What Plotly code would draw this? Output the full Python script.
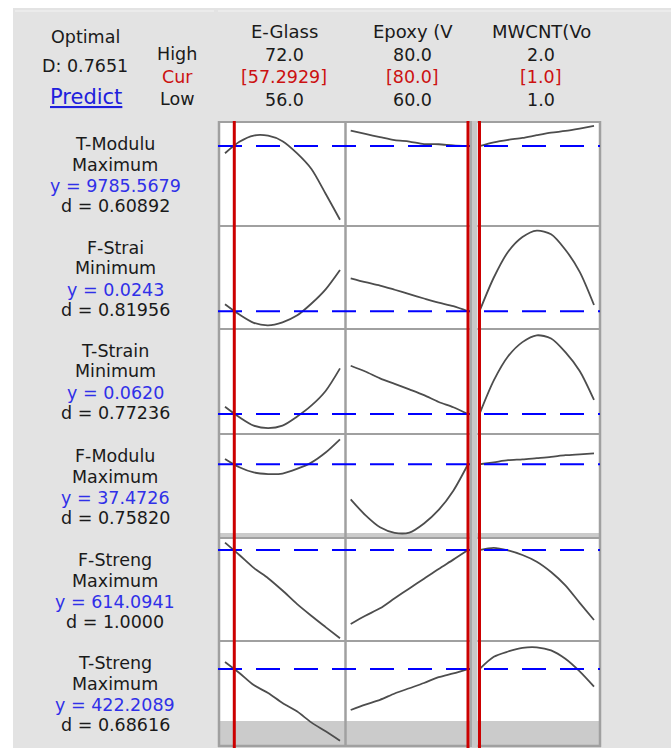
import plotly.graph_objects as go

W, H = 671, 748

# ---------------- data ----------------
factor_names = ["E-Glass", "Epoxy (V", "MWCNT(Vo"]
high_labels = ["72.0", "80.0", "2.0"]
cur_labels = ["[57.2929]", "[80.0]", "[1.0]"]
low_labels = ["56.0", "60.0", "1.0"]
factor_low = [56.0, 60.0, 1.0]
factor_high = [72.0, 80.0, 2.0]
factor_cur = [57.2929, 80.0, 1.0]

e_glass = [56, 58, 60, 62, 64, 66, 68, 70, 72]
epoxy = [60, 62.5, 65, 67.5, 70, 72.5, 75, 77.5, 80]
mwcnt = [1.0, 1.125, 1.25, 1.375, 1.5, 1.625, 1.75, 1.875, 2.0]

response_names = ["T-Modulu", "F-Strai", "T-Strain", "F-Modulu", "F-Streng", "T-Streng"]
response_goals = ["Maximum", "Minimum", "Minimum", "Maximum", "Maximum", "Maximum"]
response_y = ["9785.5679", "0.0243", "0.0620", "37.4726", "614.0941", "422.2089"]
response_d = ["0.60892", "0.81956", "0.77236", "0.75820", "1.0000", "0.68616"]
optimal_D = "0.7651"

# predicted responses (relative position within each row's plotted range)
t_mod_glass = [0.70, 0.81, 0.87, 0.868, 0.815, 0.70, 0.55, 0.31, 0.06]
t_mod_epoxy = [0.916, 0.885, 0.855, 0.826, 0.812, 0.788, 0.786, 0.775, 0.769]
t_mod_mwcnt = [0.769, 0.805, 0.829, 0.847, 0.873, 0.897, 0.914, 0.937, 0.962]

f_strain_glass = [0.24, 0.14, 0.06, 0.036, 0.065, 0.13, 0.245, 0.385, 0.573]
f_strain_epoxy = [0.492, 0.455, 0.422, 0.381, 0.338, 0.296, 0.256, 0.222, 0.172]
f_strain_mwcnt = [0.172, 0.50, 0.75, 0.893, 0.955, 0.92, 0.77, 0.555, 0.233]

t_strain_glass = [0.26, 0.16, 0.08, 0.056, 0.08, 0.165, 0.27, 0.41, 0.625]
t_strain_epoxy = [0.65, 0.595, 0.53, 0.478, 0.425, 0.37, 0.305, 0.255, 0.19]
t_strain_mwcnt = [0.19, 0.51, 0.74, 0.875, 0.94, 0.91, 0.78, 0.60, 0.324]

f_mod_glass = [0.76, 0.68, 0.63, 0.615, 0.62, 0.664, 0.725, 0.822, 0.949]
f_mod_epoxy = [0.372, 0.22, 0.103, 0.05, 0.052, 0.14, 0.27, 0.455, 0.709]
f_mod_mwcnt = [0.709, 0.728, 0.748, 0.756, 0.768, 0.78, 0.796, 0.805, 0.814]

f_str_glass = [0.955, 0.835, 0.71, 0.61, 0.49, 0.36, 0.245, 0.135, 0.026]
f_str_epoxy = [0.165, 0.245, 0.317, 0.415, 0.51, 0.605, 0.70, 0.79, 0.883]
f_str_mwcnt = [0.883, 0.905, 0.88, 0.835, 0.77, 0.67, 0.54, 0.37, 0.204]

t_str_glass = [0.80, 0.695, 0.58, 0.505, 0.41, 0.33, 0.225, 0.14, 0.05]
t_str_epoxy = [0.343, 0.395, 0.44, 0.50, 0.55, 0.60, 0.656, 0.692, 0.733]
t_str_mwcnt = [0.733, 0.85, 0.90, 0.935, 0.94, 0.91, 0.83, 0.71, 0.565]

current_level = [0.769, 0.172, 0.19, 0.709, 0.883, 0.733]

factor_x = [e_glass, epoxy, mwcnt]
curves = [
    [t_mod_glass, t_mod_epoxy, t_mod_mwcnt],
    [f_strain_glass, f_strain_epoxy, f_strain_mwcnt],
    [t_strain_glass, t_strain_epoxy, t_strain_mwcnt],
    [f_mod_glass, f_mod_epoxy, f_mod_mwcnt],
    [f_str_glass, f_str_epoxy, f_str_mwcnt],
    [t_str_glass, t_str_epoxy, t_str_mwcnt],
]

# ---------------- layout geometry (pixels) ----------------
rows_px = [(122, 226), (226, 329), (329, 434), (434, 538), (538, 641), (641, 746)]
cols_px = [(219, 345.5), (345.5, 470.5), (470.5, 600)]
data_px = [(225, 340), (350.7, 468), (479.5, 594)]  # where low/high factor values sit

FONT = "DejaVu Sans"
BLACK = "#1a1a1a"
BLUE = "#3030e8"
RED = "#cc1111"

fig = go.Figure()
layout = dict(width=W, height=H, margin=dict(l=0, r=0, t=0, b=0),
              paper_bgcolor="white", plot_bgcolor="rgba(0,0,0,0)", showlegend=False)

for c in range(3):
    d0, d1 = cols_px[c]
    p0, p1 = data_px[c]
    a, b = factor_low[c], factor_high[c]
    s = (b - a) / (p1 - p0)
    rng = [a - (p0 - d0) * s, b + (d1 - p1) * s]
    key = "xaxis" if c == 0 else f"xaxis{c+1}"
    layout[key] = dict(domain=[d0 / W, d1 / W], range=rng, visible=False,
                       fixedrange=True, anchor="y6")

for r in range(6):
    t, bt = rows_px[r]
    key = "yaxis" if r == 0 else f"yaxis{r+1}"
    layout[key] = dict(domain=[1 - bt / H, 1 - t / H], range=[0, 1], visible=False,
                       fixedrange=True, anchor="x")

for r in range(6):
    for c in range(3):
        fig.add_trace(go.Scatter(
            x=factor_x[c], y=curves[r][c], mode="lines",
            line=dict(color="#4d4d4d", width=1.8, shape="spline", smoothing=0.8),
            xaxis="x" if c == 0 else f"x{c+1}",
            yaxis="y" if r == 0 else f"y{r+1}",
            hoverinfo="skip"))

shapes = []


def prect(x0, y0, x1, y1, fill, layer="below"):
    shapes.append(dict(type="rect", xref="paper", yref="paper",
                       x0=x0 / W, x1=x1 / W, y0=1 - y1 / H, y1=1 - y0 / H,
                       fillcolor=fill, line=dict(width=0), layer=layer))


def pline(x0, y0, x1, y1, color, width, layer="above", dash=None):
    d = dict(type="line", xref="paper", yref="paper",
             x0=x0 / W, x1=x1 / W, y0=1 - y0 / H, y1=1 - y1 / H,
             line=dict(color=color, width=width), layer=layer)
    if dash:
        d["line"]["dash"] = dash
    shapes.append(d)


# backgrounds
prect(13, 8, W, H, "#e3e3e3")
pline(15, 11, 214, 11, "#f3f3f3", 1, layer="below")
pline(218, 11, W, 11, "#f3f3f3", 1, layer="below")
prect(219, 122, 600, 746, "white")
prect(219, 533, 600, 537.5, "#cbcbcb")
prect(219, 721, 600, 745, "#cbcbcb")

# grid borders
for (t, bt) in rows_px:
    pline(218, t, 601, t, "#a0a0a0", 2)
pline(218, 746, 601, 746, "#a0a0a0", 2.5)
for x in [219, 345.5, 600]:
    pline(x, 121, x, 747, "#a0a0a0", 2.5)
prect(469.5, 121, 477.5, 747, "#c8c8c8", layer="above")
pline(471, 121, 471, 747, "#a8a8a8", 2)

# optimal response levels (dashed)
for r in range(6):
    shapes.append(dict(type="line", xref="paper", x0=218 / W, x1=600 / W,
                       yref="y" if r == 0 else f"y{r+1}",
                       y0=current_level[r], y1=current_level[r],
                       line=dict(color="#0000ff", width=2, dash="24px,14px"),
                       layer="above"))

# current factor settings (red)
for c in range(3):
    shapes.append(dict(type="line", xref="x" if c == 0 else f"x{c+1}",
                       x0=factor_cur[c], x1=factor_cur[c],
                       yref="paper", y0=0, y1=1 - 121 / H,
                       line=dict(color="#cc0000", width=3), layer="above"))

annotations = []


def txt(x, y, s, size=17.5, color=BLACK, **font_kw):
    f = dict(family=FONT, size=size, color=color)
    f.update(font_kw)
    annotations.append(dict(x=x / W, y=1 - y / H, xref="paper", yref="paper",
                            text=s, showarrow=False, xanchor="center",
                            yanchor="middle", font=f))


txt(85, 37, "Optimal")
txt(85, 66, "D:" + " " + optimal_D)
txt(86, 97, "Predict", size=21, color="#2020dd", lineposition="under")
txt(177, 54, "High")
txt(177, 77, "Cur", color=RED)
txt(177, 99, "Low")

col_centers = [284, 413, 541]
for c in range(3):
    txt(col_centers[c], 32, factor_names[c], size=18)
    txt(col_centers[c], 55, high_labels[c])
    txt(col_centers[c], 77, cur_labels[c], color=RED)
    txt(col_centers[c], 100, low_labels[c])

for r in range(6):
    t = rows_px[r][0]
    txt(115, t + 22, response_names[r])
    txt(115, t + 42.5, response_goals[r])
    txt(115, t + 64, "y = " + response_y[r], color=BLUE)
    txt(115, t + 84, "d = " + response_d[r])

layout["shapes"] = shapes
layout["annotations"] = annotations
fig.update_layout(**layout)
fig.write_html("out.html")
